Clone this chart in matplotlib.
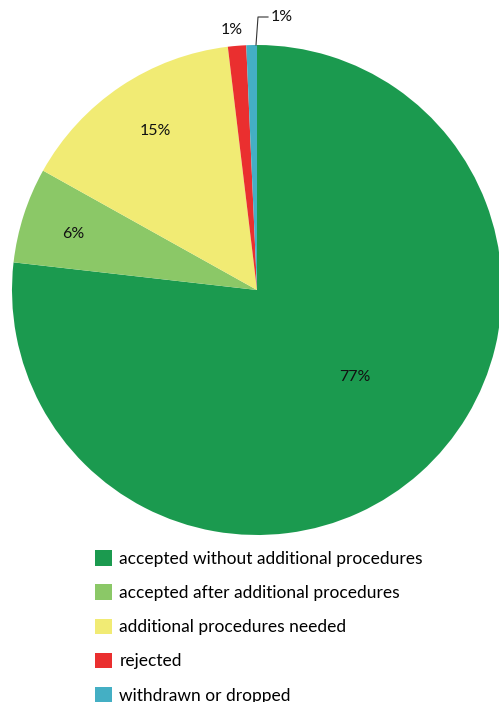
import matplotlib.pyplot as plt

plt.rcParams['font.family'] = ['Lato', 'DejaVu Sans']

labels = ['accepted without additional procedures',
          'accepted after additional procedures',
          'additional procedures needed',
          'rejected',
          'withdrawn or dropped']
values = [76.8, 6.3, 15.0, 1.2, 0.7]
colors = ['#1B9A4F', '#8BC867', '#F1EB74', '#EA2F2F', '#44AFC4']

# label positions in pixels (x, y from top)
label_pos = [(355, 377), (73, 234), (155, 131), (232, 30), (283, 17)]

fig = plt.figure(figsize=(4.99, 7.02), dpi=100)
ax = fig.add_axes([0, 0, 1, 1])
ax.set_aspect('equal')
ax.axis('off')

cx, cy, r = 257, 702 - 290, 245
wedges, texts, autotexts = ax.pie(values, colors=colors, startangle=90, counterclock=False,
                                  center=(cx, cy), radius=r, autopct='%.0f%%',
                                  textprops={'fontsize': 11.5, 'color': '#111111'},
                                  wedgeprops={'linewidth': 0})
ax.set_xlim(0, 499)
ax.set_ylim(0, 702)

for t, (px, py) in zip(autotexts, label_pos):
    t.set_position((px, 702 - py))
autotexts[-1].set_ha('left')
autotexts[-1].set_position((271, 702 - 17))

# leader line for the small slice
ax.plot([256, 258, 268], [702 - 45, 702 - 17, 702 - 17], color='#333333', lw=0.8)

fig.legend(wedges, labels, loc='upper left', bbox_to_anchor=(95 / 499, 1 - 550 / 702),
           frameon=False, fontsize=12.5, handlelength=1.0, handleheight=1.0,
           labelspacing=1.01, handletextpad=0.4, borderaxespad=0, borderpad=0)

fig.savefig('out.png', dpi=100)
